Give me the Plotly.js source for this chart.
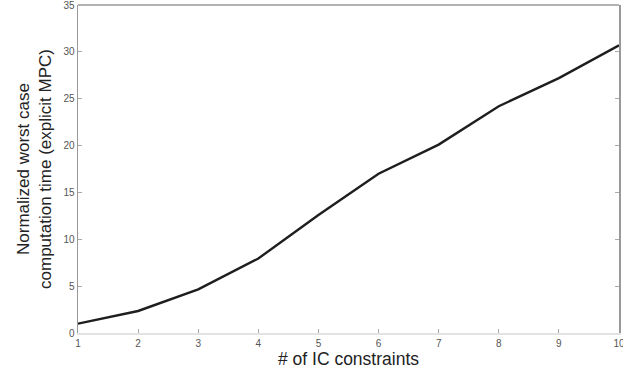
<!DOCTYPE html>
<html>
<head>
<meta charset="utf-8">
<script src="https://cdn.plot.ly/plotly-3.0.1.min.js"></script>
<style>html,body{margin:0;padding:0;background:#fff;}#chart{width:623px;height:372px;}</style>
</head>
<body>
<div id="chart"></div>
<script>
var icConstraints = [1, 2, 3, 4, 5, 6, 7, 8, 9, 10];
var normWorstTime = [1.0, 2.35, 4.65, 7.95, 12.6, 17.0, 20.1, 24.2, 27.2, 30.7];
var xTickVals = [1, 2, 3, 4, 5, 6, 7, 8, 9, 10];
var yTickVals = [0, 5, 10, 15, 20, 25, 30, 35];

var fontFam = "'Liberation Sans', Arial, Helvetica, sans-serif";
var trace = {
  x: icConstraints, y: normWorstTime, type: 'scatter', mode: 'lines',
  line: {color: '#1e1e1e', width: 2.4}, hoverinfo: 'skip'
};
var layout = {
  width: 623, height: 372,
  margin: {l: 78, r: 4, t: 5, b: 39},
  paper_bgcolor: '#fff', plot_bgcolor: '#fff',
  showlegend: false,
  font: {family: fontFam, color: '#222'},
  xaxis: {
    range: [1, 10], tickvals: xTickVals, ticktext: xTickVals.map(String),
    showgrid: false, zeroline: false,
    showline: true, linecolor: '#e2e2e2', linewidth: 1.5, mirror: false,
    ticks: 'inside', ticklen: 4, tickcolor: '#aaa', tickwidth: 1,
    ticklabeloverflow: 'allow',
    tickfont: {family: fontFam, size: 10, color: '#555'},
    title: {text: '# of IC constraints', font: {family: fontFam, size: 17.5, color: '#222'}, standoff: 1}
  },
  yaxis: {
    range: [0, 35], tickvals: yTickVals, ticktext: yTickVals.map(String),
    showgrid: false, zeroline: false,
    showline: true, linecolor: '#999', linewidth: 1.5, mirror: 'ticks',
    ticks: 'inside', ticklen: 4, tickcolor: '#aaa', tickwidth: 1,
    ticklabeloverflow: 'allow',
    tickfont: {family: fontFam, size: 10, color: '#555'},
    title: {text: 'Normalized worst case<br>computation time (explicit MPC)', font: {family: fontFam, size: 17, color: '#222'}, standoff: 7}
  },
  shapes: [
    {type: 'line', xref: 'paper', yref: 'paper', x0: 0, x1: 1, y0: 1, y1: 1, line: {color: '#999', width: 1.5}}
  ]
};
Plotly.newPlot('chart', [trace], layout, {displayModeBar: false, staticPlot: true});
</script>
</body>
</html>
